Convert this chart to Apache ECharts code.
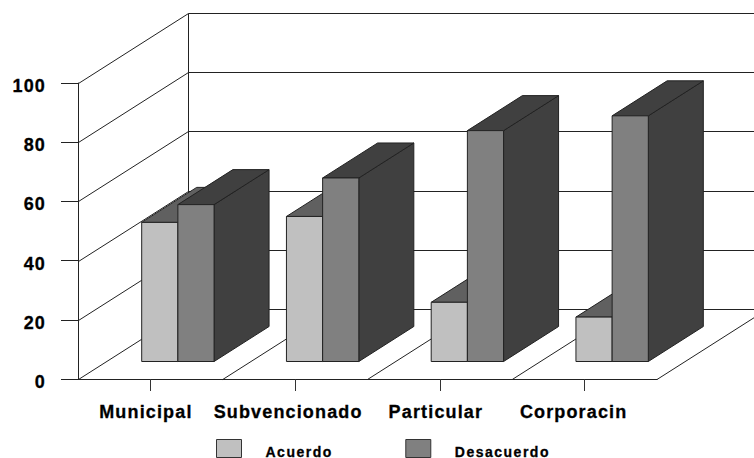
<!DOCTYPE html>
<html>
<head>
<meta charset="utf-8">
<style>
  html, body { margin: 0; padding: 0; background: #fff; overflow: hidden; }
  #chart { width: 754px; height: 458px; }
  /* Extended tracking and a slightly heavier weight for the bold lettering */
  #chart svg text { letter-spacing: 1.15px; stroke: #000; stroke-width: 0.3px; }
  #chart svg text[style*="14px"] { letter-spacing: 1.5px; }
</style>
<script src="https://cdn.jsdelivr.net/npm/echarts@6/dist/echarts.min.js"></script>
</head>
<body>
<div id="chart"></div>
<script>
// Survey shares by school type
const categories = ['Municipal', 'Subvencionado', 'Particular', 'Corporacin'];
const acuerdo = [47, 49, 20, 15];
const desacuerdo = [53, 62, 78, 83];
const yTicks = [0, 20, 40, 60, 80, 100];
const labelNudge = [9, 14, 8, 22];

// Oblique projection used for the box depth
const DEPTH_X = 110;
const DEPTH_Y = 70;
const LINE = '#222';

const chart = echarts.init(document.getElementById('chart'), null, { renderer: 'svg' });

function seg(x1, y1, x2, y2) {
  return { type: 'line', shape: { x1, y1, x2, y2 }, style: { stroke: LINE, lineWidth: 1, fill: null } };
}

function poly(points, fill) {
  return { type: 'polygon', shape: { points }, style: { fill, stroke: LINE, lineWidth: 1, lineJoin: 'miter' } };
}

// Left wall, back wall and their horizontal rules
function renderWall(params, api) {
  const v = api.value(1);
  const band = api.size([1, 0])[0];
  const p = api.coord([0, v]);
  const last = api.coord([categories.length - 1, v]);
  const base = api.coord([0, 0]);
  const xl = Math.round(p[0] - band / 2) + 0.5;
  const xr = last[0] + band / 2;
  const y = Math.round(p[1]) + 0.5;
  const by = y - DEPTH_Y;
  const children = [
    seg(xl, y, xl + DEPTH_X, by),
    seg(xl + DEPTH_X, by, xr + DEPTH_X, by)
  ];
  if (v > 0) {
    children.push(seg(xl + DEPTH_X, by, xl + DEPTH_X, Math.round(base[1]) + 0.5 - DEPTH_Y));
  }
  return { type: 'group', children };
}

// Floor dividers running back from each category boundary
function renderFloor(params, api) {
  const band = api.size([1, 0])[0];
  const p = api.coord([api.value(0), 0]);
  const x = p[0] + band / 2;
  const y = Math.round(p[1]) + 0.5;
  return seg(x, y, x + DEPTH_X, y - DEPTH_Y);
}

// One box of a category pair: front, top and side faces
function boxRenderer(slot, frontColor, topColor, sideColor) {
  return function (params, api) {
    const cat = api.value(0);
    const band = api.size([1, 0])[0];
    const top = api.coord([cat, api.value(1)]);
    const bottom = api.coord([cat, 0]);
    const w = band / 4;
    const ox = DEPTH_X / 4;
    const oy = DEPTH_Y / 4;
    const dx = DEPTH_X / 2;
    const dy = DEPTH_Y / 2;
    const x0 = top[0] - w + ox + slot * w;
    const x1 = x0 + w;
    const yt = top[1] - oy;
    const yb = bottom[1] - oy;
    return {
      type: 'group',
      children: [
        poly([[x1, yt], [x1 + dx, yt - dy], [x1 + dx, yb - dy], [x1, yb]], sideColor),
        poly([[x0, yt], [x0 + dx, yt - dy], [x1 + dx, yt - dy], [x1, yt]], topColor),
        poly([[x0, yt], [x1, yt], [x1, yb], [x0, yb]], frontColor)
      ]
    };
  };
}

const boldText = { fontFamily: 'Liberation Sans', fontWeight: 'bold', color: '#000' };

chart.setOption({
  animation: false,
  backgroundColor: '#fff',
  grid: { left: 78, top: 83, width: 579, height: 296, containLabel: false },
  legend: {
    data: [
      { name: 'Acuerdo', icon: 'rect' },
      { name: 'Desacuerdo', icon: 'rect' }
    ],
    left: 216,
    top: 439,
    padding: 0,
    itemWidth: 25,
    itemHeight: 18,
    itemGap: 83,
    selectedMode: false,
    itemStyle: { borderColor: '#333', borderWidth: 1 },
    formatter: name => '{t|' + name + '}',
    textStyle: {
      ...boldText,
      fontSize: 14,
      rich: { t: { ...boldText, fontSize: 14, padding: [6, 0, 0, 19] } }
    }
  },
  xAxis: {
    type: 'category',
    data: categories.map((c, i) => ({
      value: c,
      textStyle: { padding: [0, labelNudge[i], 0, 0] }
    })),
    axisLine: { lineStyle: { color: LINE, width: 1 } },
    axisTick: { show: true, length: 12, alignWithLabel: true, lineStyle: { color: '#333', width: 1 } },
    axisLabel: {
      ...boldText,
      interval: 0,
      margin: 24,
      fontSize: 18
    },
    splitLine: { show: false }
  },
  yAxis: {
    type: 'value',
    min: 0,
    max: 100,
    interval: 20,
    axisLine: { show: true, lineStyle: { color: LINE, width: 1 } },
    axisTick: { show: true, length: 17, lineStyle: { color: LINE, width: 1 } },
    axisLabel: {
      ...boldText,
      margin: 32,
      fontSize: 18,
      formatter: '{v|{value}}',
      rich: { v: { ...boldText, fontSize: 18, padding: [6, 0, 0, 0] } }
    },
    splitLine: { show: false }
  },
  series: [
    {
      name: 'Paredes',
      type: 'custom',
      clip: false,
      silent: true,
      z: 1,
      renderItem: renderWall,
      data: yTicks.map(v => [0, v])
    },
    {
      name: 'Piso',
      type: 'custom',
      clip: false,
      silent: true,
      z: 1,
      renderItem: renderFloor,
      data: categories.map((c, i) => [i, 0])
    },
    {
      name: 'Acuerdo',
      type: 'custom',
      clip: false,
      z: 2,
      itemStyle: { color: '#c0c0c0' },
      renderItem: boxRenderer(0, '#c0c0c0', '#606060', '#606060'),
      data: acuerdo.map((v, i) => [i, v])
    },
    {
      name: 'Desacuerdo',
      type: 'custom',
      clip: false,
      z: 3,
      itemStyle: { color: '#808080' },
      renderItem: boxRenderer(1, '#808080', '#404040', '#404040'),
      data: desacuerdo.map((v, i) => [i, v])
    }
  ]
});
</script>
</body>
</html>
